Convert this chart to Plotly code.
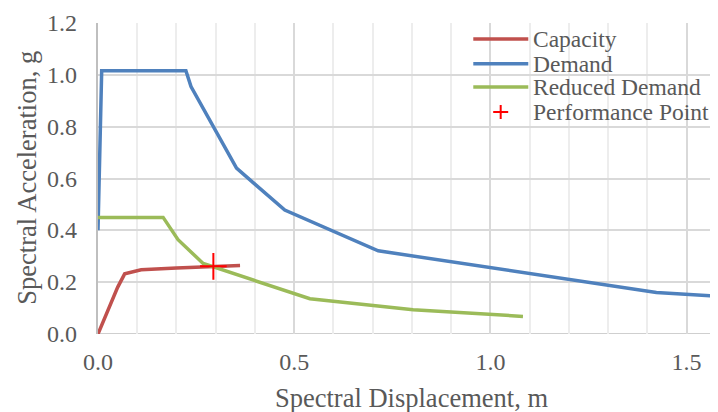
import plotly.graph_objects as go

cap_x = [0.0, 0.03, 0.05, 0.068, 0.11, 0.2, 0.3, 0.362]
cap_y = [0.0, 0.11, 0.18, 0.232, 0.248, 0.255, 0.262, 0.264]

dem_x = [0.0, 0.0094, 0.224, 0.237, 0.353, 0.476, 0.714, 1.423, 1.58]
dem_y = [0.40, 1.016, 1.016, 0.955, 0.640, 0.478, 0.321, 0.160, 0.146]

red_x = [0.0, 0.166, 0.204, 0.268, 0.540, 0.803, 1.083]
red_y = [0.450, 0.450, 0.364, 0.272, 0.136, 0.094, 0.068]

pp_x = [0.294]
pp_y = [0.261]

y_ticks = [0.0, 0.2, 0.4, 0.6, 0.8, 1.0, 1.2]
y_tick_labels = ["0.0", "0.2", "0.4", "0.6", "0.8", "1.0", "1.2"]

series_names = ["Capacity", "Demand", "Reduced Demand", "Performance Point"]
series_colors = ["#C0504D", "#4F81BD", "#9BBB59", "#FF0000"]
x_title = "Spectral Displacement, m"
y_title = "Spectral Acceleration, g"

font = "Liberation Serif"
grey = "#595959"
TICK = 24
TITLE = 26.5
LEG = 23.5

fig = go.Figure()
for xs, ys, nm, col in [(cap_x, cap_y, series_names[0], series_colors[0]),
                        (dem_x, dem_y, series_names[1], series_colors[1]),
                        (red_x, red_y, series_names[2], series_colors[2])]:
    fig.add_trace(go.Scatter(x=xs, y=ys, mode="lines", name=nm,
                             line=dict(color=col, width=3.5), showlegend=False))
fig.add_trace(go.Scatter(x=pp_x, y=pp_y, mode="markers", name=series_names[3], showlegend=False,
                         marker=dict(symbol="cross-thin", size=19, color=series_colors[3],
                                     line=dict(color=series_colors[3], width=2))))

# manual legend (Excel-like compact rows), in paper coordinates
row_y = [0.9486, 0.8691, 0.7942, 0.7138]
lx0, lx1, tx = 0.6053, 0.6940, 0.6995
for i in range(3):
    fig.add_shape(type="line", xref="paper", yref="paper", x0=lx0, x1=lx1,
                  y0=row_y[i], y1=row_y[i], line=dict(color=series_colors[i], width=3.5))
cx, hw, hh = 0.6495, 0.0121, 0.0225
fig.add_shape(type="line", xref="paper", yref="paper", x0=cx - hw, x1=cx + hw,
              y0=row_y[3], y1=row_y[3], line=dict(color=series_colors[3], width=2))
fig.add_shape(type="line", xref="paper", yref="paper", x0=cx, x1=cx,
              y0=row_y[3] - hh, y1=row_y[3] + hh, line=dict(color=series_colors[3], width=2))
for i, nm in enumerate(series_names):
    fig.add_annotation(xref="paper", yref="paper", x=tx, y=row_y[i], text=nm,
                       showarrow=False, xanchor="left", yanchor="middle",
                       font=dict(family=font, size=LEG, color=grey), borderpad=0)

# y tick labels placed on the y scale
for v, lab in zip(y_ticks, y_tick_labels):
    fig.add_annotation(xref="paper", yref="y", x=-0.0323, y=v, text=lab,
                       showarrow=False, xanchor="right", yanchor="middle",
                       font=dict(family=font, size=TICK, color=grey), borderpad=0)

# axis titles
fig.add_annotation(xref="paper", yref="paper", x=0.5056, y=-0.2057, text=x_title,
                   showarrow=False, xanchor="center", yanchor="middle",
                   font=dict(family=font, size=TITLE, color=grey))
fig.add_annotation(xref="paper", yref="paper", x=-0.1145, y=0.5026, text=y_title,
                   showarrow=False, xanchor="center", yanchor="middle", textangle=-90,
                   font=dict(family=font, size=TITLE, color=grey))

fig.update_layout(
    width=710, height=404,
    margin=dict(l=90, r=0, t=15.3, b=77.7),
    paper_bgcolor="white", plot_bgcolor="white",
    font=dict(family=font, size=TICK, color=grey),
    showlegend=False,
    xaxis=dict(range=[0, 1.58], dtick=0.5, tickformat=".1f", automargin=False,
               showgrid=True, gridcolor="#D9D9D9", gridwidth=1.5,
               minor=dict(dtick=0.1, showgrid=True, gridcolor="#EDEDED", gridwidth=1.5),
               zeroline=False, showline=False,
               ticks="", ticklabelstandoff=11,
               tickfont=dict(family=font, size=TICK, color=grey)),
    yaxis=dict(range=[0, 1.2], tickvals=y_ticks, showticklabels=False, automargin=False,
               showgrid=True, gridcolor="#D9D9D9", gridwidth=1.5,
               zeroline=False, showline=True, linecolor="#BFBFBF", linewidth=1.5,
               ticks=""),
)
fig.add_shape(type="line", xref="paper", yref="y", x0=0, x1=1, y0=0, y1=0,
              line=dict(color="#BFBFBF", width=1.5), layer="below")

fig.write_html("out.html")
